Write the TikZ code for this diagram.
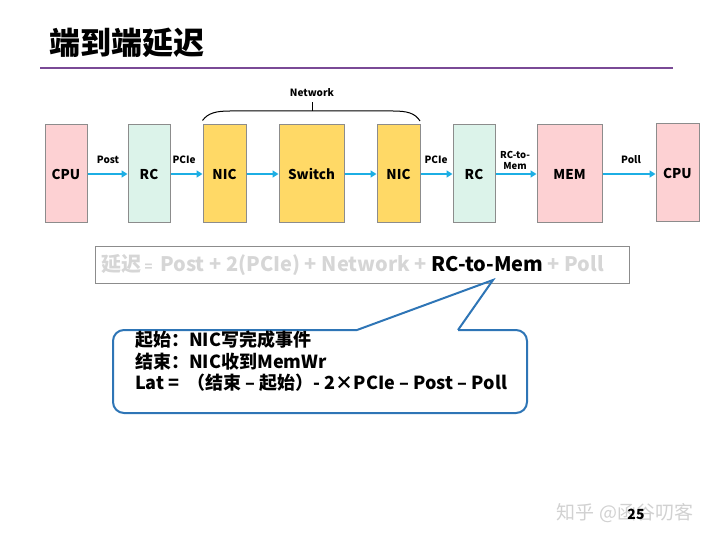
\documentclass[tikz,border=0pt]{standalone}
\usepackage{fontspec}
\setmainfont{Noto Sans CJK SC}
\usetikzlibrary{arrows.meta}
\definecolor{pinkfill}{HTML}{FDD1D3}
\definecolor{mintfill}{HTML}{DCF3EA}
\definecolor{yelfill}{HTML}{FFD966}
\definecolor{boxline}{HTML}{8C8C8C}
\definecolor{arrowc}{HTML}{1CAEE4}
\definecolor{purp}{HTML}{7A4A96}
\definecolor{calloutc}{HTML}{2E75B6}
\definecolor{lightg}{HTML}{D6D6D6}
\tikzset{
  blk/.style={draw=boxline, line width=1pt, inner sep=0pt, font=\fontsize{13.5}{13.5}\selectfont\bfseries},
  flow/.style={draw=arrowc, line width=2pt, -{Triangle[length=6pt,width=7pt]}},
  lbl/.style={font=\fontsize{10}{10}\selectfont\bfseries, inner sep=0pt, align=center},
}
\begin{document}
\begin{tikzpicture}[x=1pt,y=-1pt]
\useasboundingbox (0,0) rectangle (720,540);
% title
\node[anchor=west, inner sep=0pt, font=\fontsize{31}{31}\selectfont\bfseries] (title) at (49,43) {端到端延迟};
\draw[purp, line width=2pt] (40,68) -- (673,68);
% boxes
\node[blk, fill=pinkfill, minimum width=42pt, minimum height=98pt] (cpu1) at (66,174) {CPU};
\node[blk, fill=mintfill, minimum width=42pt, minimum height=98pt] (rc1) at (149,174) {RC};
\node[blk, fill=yelfill, minimum width=43pt, minimum height=98pt] (nic1) at (224.5,174) {NIC};
\node[blk, fill=yelfill, minimum width=65pt, minimum height=98pt] (sw) at (311.5,174) {Switch};
\node[blk, fill=yelfill, minimum width=43pt, minimum height=98pt] (nic2) at (398.5,174) {NIC};
\node[blk, fill=mintfill, minimum width=42pt, minimum height=98pt] (rc2) at (474,174) {RC};
\node[blk, fill=pinkfill, minimum width=65pt, minimum height=98pt] (mem) at (569.5,174) {MEM};
\node[blk, fill=pinkfill, minimum width=43pt, minimum height=98pt] (cpu2) at (677.5,173) {CPU};
% arrows
\draw[flow] (cpu1.east) -- (rc1.west);
\draw[flow] (rc1.east) -- (nic1.west);
\draw[flow] (nic1.east) -- (sw.west);
\draw[flow] (sw.east) -- (nic2.west);
\draw[flow] (nic2.east) -- (rc2.west);
\draw[flow] (rc2.east) -- (mem.west);
\draw[flow] (mem.east) -- (cpu2.west |- mem.east);
% arrow labels
\node[lbl] (l1) at (108,160) {Post};
\node[lbl] (l2) at (184,160) {PCIe};
\node[lbl] (l3) at (436,160) {PCIe};
\node[lbl, font=\fontsize{9.5}{11}\selectfont\bfseries] (l4) at (515,160) {RC-to-\\Mem};
\node[lbl] (l5) at (631,160) {Poll};
% network brace
\draw[line width=1pt] (nic1.north west) ++(0,-4) .. controls (208,113) and (216,111) .. (230,111) -- (393,111) .. controls (407,111) and (415,113) .. (420,121);
\coordinate (bt) at (312,111);
\draw[line width=1pt] (bt) -- ++(0,-9);
\node[lbl, font=\fontsize{10}{10}\selectfont\bfseries] (net) at (312,93) {Network};
% formula box
\node[draw=boxline, line width=1pt, minimum width=534pt, minimum height=37pt, anchor=north west, inner sep=0pt] (fbox) at (95,246) {};
\node[anchor=west, inner sep=0pt, font=\fontsize{20}{20}\selectfont\bfseries] (ftext) at (101,265)
  {\textcolor{lightg}{延迟\,{\fontsize{13}{13}\selectfont=}\, Post + 2(PCIe) + Network +\ }RC-to-Mem\textcolor{lightg}{\ + Poll}};
% callout
\draw[calloutc, line width=2pt, rounded corners=11pt] (357,330) -- (113,330) -- (113,413) -- (527,413) -- (527,330) -- (458,330);
\draw[calloutc, line width=2pt, line join=miter] (357,330) -- (493,280) -- (458,330);
\coordinate (tip) at (493,280);
\node[anchor=north west, inner sep=0pt, align=left, font=\fontsize{18}{21.5}\selectfont\bfseries] (ctext) at (135,331)
  {起始：NIC写完成事件\\结束：NIC收到MemWr\\Lat =\ \ （结束 – 起始）- 2×PCIe – Post – Poll};
% watermark and page number
\node[inner sep=0pt, font=\fontsize{19}{19}\selectfont, text=black!18] (wm) at (625,513) {知乎 @函谷叨客};
\node[inner sep=0pt, font=\fontsize{14}{14}\selectfont\bfseries] (pg) at (636,514) {25};
\end{tikzpicture}
\end{document}
